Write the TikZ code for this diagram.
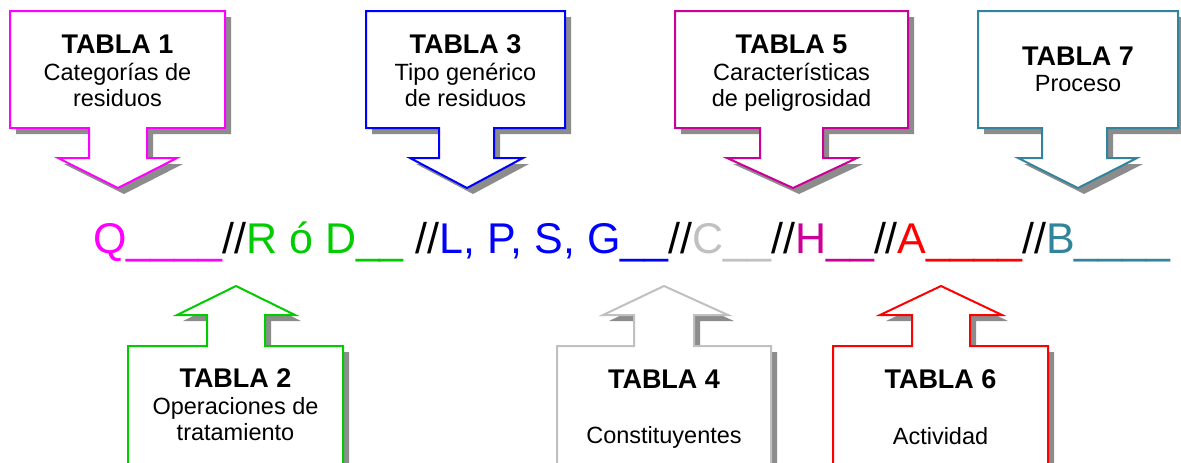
\documentclass[tikz,border=0pt]{standalone}
\usepackage{fontspec}
\setmainfont{Liberation Sans}
\definecolor{cQ}{HTML}{FF00FF}
\definecolor{cR}{HTML}{00CC00}
\definecolor{cL}{HTML}{0000FF}
\definecolor{cC}{HTML}{C0C0C0}
\definecolor{cH}{HTML}{CC0099}
\definecolor{cA}{HTML}{FF0000}
\definecolor{cB}{HTML}{31849B}
\definecolor{shade}{HTML}{8C8C8C}
\tikzset{
  calloutbox/.style={draw=#1, line width=2pt, fill=white, line join=miter},
  shadowshape/.style={fill=shade, draw=none},
  titletext/.style={anchor=base, inner sep=0, font=\fontsize{27}{30}\selectfont\bfseries},
  bodytext/.style={anchor=base, inner sep=0, font=\fontsize{23.5}{27}\selectfont},
}
% #1 x1, #2 x2, #3 stemL, #4 stemR, #5 wingL, #6 wingR, #7 tip x, #8 colour
\newcommand\topcallout[8]{%
  \fill[shadowshape, shift={(6,6)}] (#1,11) -- (#2,11) -- (#2,128) -- (#4,128) -- (#4,158) -- (#6,158) -- (#7,188) -- (#5,158) -- (#3,158) -- (#3,128) -- (#1,128) -- cycle;
  \draw[calloutbox=#8] (#1,11) -- (#2,11) -- (#2,128) -- (#4,128) -- (#4,158) -- (#6,158) -- (#7,188) -- (#5,158) -- (#3,158) -- (#3,128) -- (#1,128) -- cycle;
}
\newcommand\botcallout[8]{%
  \fill[shadowshape, shift={(6,6)}] (#1,480) -- (#1,346) -- (#3,346) -- (#3,315) -- (#5,315) -- (#7,286) -- (#6,315) -- (#4,315) -- (#4,346) -- (#2,346) -- (#2,480) -- cycle;
  \fill[white] (#1,480) -- (#1,346) -- (#3,346) -- (#3,315) -- (#5,315) -- (#7,286) -- (#6,315) -- (#4,315) -- (#4,346) -- (#2,346) -- (#2,480) -- cycle;
  \draw[calloutbox=#8, fill=none] (#1,480) -- (#1,346) -- (#3,346) -- (#3,315) -- (#5,315) -- (#7,286) -- (#6,315) -- (#4,315) -- (#4,346) -- (#2,346) -- (#2,480);
}
\begin{document}
\begin{tikzpicture}[x=1pt,y=-1pt]
\useasboundingbox (0,0) rectangle (1181,463);
\fill[white] (0,0) rectangle (1181,463);
\clip (0,0) rectangle (1181,463);

% top callouts
\topcallout{10}{225}{89}{147}{58}{177}{118}{cQ}
\topcallout{366}{565}{439}{494}{410}{523}{467}{cL}
\topcallout{675}{908}{760}{823}{727}{857}{793}{cH}
\topcallout{978}{1178}{1042}{1107}{1018}{1137}{1078}{cB}

% bottom callouts
\botcallout{128}{343}{207}{265}{177}{295}{236}{cR}
\botcallout{557}{771}{634}{694}{603}{728}{664}{cC}
\botcallout{833}{1048}{912}{970}{880}{1002}{941}{cA}

% texts top
\node[titletext] (t1) at (117.5,53) {TABLA 1};
\node[bodytext] (t1a) at (117.5,80) {Categorías de};
\node[bodytext] (t1b) at (117.5,106.5) {residuos};

\node[titletext] (t3) at (465.5,53) {TABLA 3};
\node[bodytext] (t3a) at (465.5,80) {Tipo genérico};
\node[bodytext] (t3b) at (465.5,106.5) {de residuos};

\node[titletext] (t5) at (791.5,53) {TABLA 5};
\node[bodytext] (t5a) at (791.5,80) {Características};
\node[bodytext] (t5b) at (791.5,106.5) {de peligrosidad};

\node[titletext] (t7) at (1078,65) {TABLA 7};
\node[bodytext] (t7a) at (1078,91.5) {Proceso};

% texts bottom
\node[titletext] (t2) at (235.5,387) {TABLA 2};
\node[bodytext] (t2a) at (235.5,414) {Operaciones de};
\node[bodytext] (t2b) at (235.5,440.5) {tratamiento};

\node[titletext] (t4) at (664,388) {TABLA 4};
\node[bodytext] (t4a) at (664,443) {Constituyentes};

\node[titletext] (t6) at (940.5,388) {TABLA 6};
\node[bodytext] (t6a) at (940.5,444) {Actividad};

% code line
\node[anchor=base west, inner sep=0, font=\fontsize{43}{48}\selectfont] (code) at (93,253.5)
 {\textcolor{cQ}{Q\_\_\_\_}//\textcolor{cR}{R ó D\_\_} //\textcolor{cL}{L, P, S, G\_\_}//\textcolor{cC}{C\_\_}//\textcolor{cH}{H\_\_}//\textcolor{cA}{A\_\_\_\_}//\textcolor{cB}{B\_\_\_\_}};
\end{tikzpicture}
\end{document}
